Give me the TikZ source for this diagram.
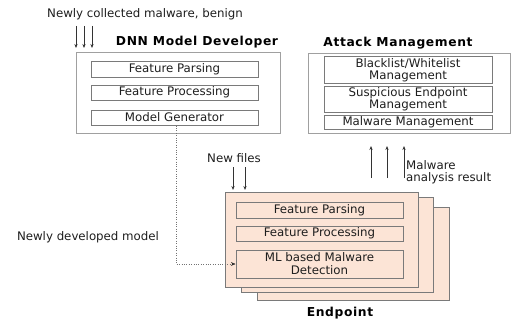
\documentclass[tikz,border=0pt]{standalone}
\usepackage{fontspec}
\setmainfont{DejaVu Sans}
\usetikzlibrary{arrows.meta}
\definecolor{peach}{HTML}{FCE4D6}
\definecolor{edge}{HTML}{7A7A7A}
\definecolor{ledge}{HTML}{A0A0A0}
\definecolor{txt}{HTML}{1E1E1E}
\tikzset{
  every node/.style={font=\fontsize{11.8}{12.5}\selectfont, text=txt, inner sep=0pt},
  outerbox/.style={draw=ledge, line width=0.9pt},
  innerbox/.style={draw=edge, line width=1pt, align=center},
  epbox/.style={draw=edge, line width=1pt, fill=peach},
  eptitle/.style={font=\fontsize{12.3}{13}\selectfont\bfseries\addfontfeatures{LetterSpace=5}, text=black},
  arr/.style={-{Stealth[length=4pt,width=3.2pt]}, line width=0.7pt, draw=black!80},
  dotline/.style={-{Stealth[length=4.5pt,width=3.6pt,color=black!85,fill=black!85,line width=0.4pt]}, line width=1pt, draw=black!55, dash pattern=on 1.1pt off 1.3pt}
}
\begin{document}
\begin{tikzpicture}[x=1pt,y=-1pt]
\useasboundingbox (0,0) rectangle (511,321);
% DNN Model Developer
\node (t1) at (145,14) {Newly collected malware, benign};
\foreach \i/\x in {1/76,2/84,3/92}{
  \coordinate (ds\i) at (\x,26);
  \coordinate (de\i) at (\x,48);
  \draw[arr] (ds\i) -- (de\i);
}
\node[eptitle] (dnnt) at (197,42) {DNN Model Developer};
\node[outerbox, minimum width=204, minimum height=81] (dnn) at (178,92.5) {};
\node[innerbox, minimum width=167, minimum height=15] (fp1) at (174.5,69.5) {Feature Parsing};
\node[innerbox, minimum width=167, minimum height=15] (fpr1) at (174.5,92.5) {Feature Processing};
\node[innerbox, minimum width=167, minimum height=15] (mg) at (174.5,117.5) {Model Generator};
% Attack Management
\node[eptitle] (amt) at (398,43) {Attack Management};
\node[outerbox, minimum width=202, minimum height=80] (am) at (409,93) {};
\node[innerbox, minimum width=168, minimum height=26, font=\fontsize{11.8}{12}\selectfont] (bw) at (408,70) {Blacklist/Whitelist\\Management};
\node[innerbox, minimum width=168, minimum height=26, font=\fontsize{11.8}{12}\selectfont] (se) at (408,99) {Suspicious Endpoint\\Management};
\node[innerbox, minimum width=168, minimum height=14] (mm) at (408,122) {Malware Management};
\foreach \i/\x in {1/371,2/387,3/404}{
  \coordinate (us\i) at (\x,178);
  \coordinate (ue\i) at (\x,146);
  \draw[arr] (us\i) -- (ue\i);
}
\node[anchor=west, align=left] (mar) at (406,172) {Malware\\analysis result};
% Endpoint
\node (nf) at (234,158) {New files};
\foreach \i/\x in {1/233,2/245}{
  \coordinate (ns\i) at (\x,167);
  \coordinate (ne\i) at (\x,190);
  \draw[arr] (ns\i) -- (ne\i);
}
\node[epbox, minimum width=192, minimum height=93] (ep3) at (353,253.5) {};
\node[epbox, minimum width=192, minimum height=95] (ep2) at (337,244.5) {};
\node[epbox, minimum width=193, minimum height=95] (ep1) at (321.5,239.5) {};
\node[innerbox, fill=peach, minimum width=167, minimum height=16] (fp2) at (319.5,210) {Feature Parsing};
\node[innerbox, fill=peach, minimum width=167, minimum height=15] (fpr2) at (319.5,233.5) {Feature Processing};
\node[innerbox, fill=peach, minimum width=167, minimum height=28, font=\fontsize{11.8}{13}\selectfont] (ml) at (319.5,264) {ML based Malware\\Detection};
\node[eptitle] (ept) at (340,313) {Endpoint};
\node (ndm) at (88,237) {Newly developed model};
\draw[dotline] ([xshift=1.5pt]mg.south) |- (ml.west);
\end{tikzpicture}
\end{document}
